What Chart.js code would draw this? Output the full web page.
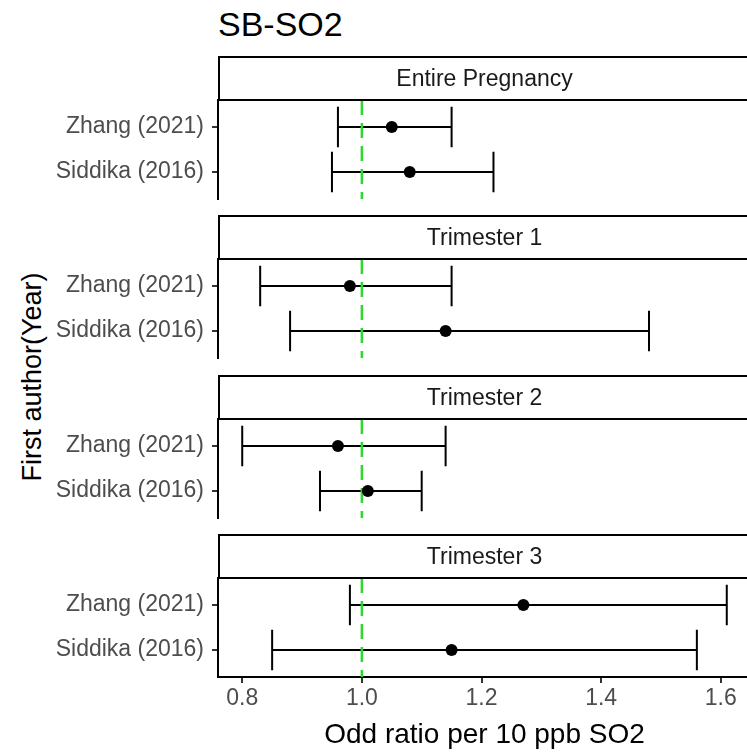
<!DOCTYPE html>
<html>
<head>
<meta charset="utf-8">
<title>SB-SO2</title>
<script src="https://cdn.jsdelivr.net/npm/chart.js@4.4.0/dist/chart.umd.min.js"></script>
<style>
  body { margin: 0; background: #fff; }
  #wrap { position: relative; width: 747px; height: 752px; overflow: hidden; font-family: 'Liberation Sans', Arial, sans-serif; }
  #wrap canvas { position: absolute; left: 0; }
  #title { position: absolute; left: 218px; top: 7px; font-size: 34px; line-height: 34px; color: #000; }
  #ytitle { position: absolute; left: 32px; top: 377px; font-size: 27px; line-height: 27px; color: #000; white-space: nowrap; transform: translate(-50%, -50%) rotate(-90deg); }
</style>
</head>
<body>
<div id="wrap">
  <div id="title">SB-SO2</div>
  <div id="ytitle">First author(Year)</div>
</div>
<script>
document.addEventListener("DOMContentLoaded", function () {
    const periods = ['Entire Pregnancy', 'Trimester 1', 'Trimester 2', 'Trimester 3'];
    const studies = ['Zhang (2021)', 'Siddika (2016)'];

    const zhangOR = [1.05, 0.98, 0.96, 1.27];
    const zhangLow = [0.96, 0.83, 0.80, 0.98];
    const zhangHigh = [1.15, 1.15, 1.14, 1.61];

    const siddikaOR = [1.08, 1.14, 1.01, 1.15];
    const siddikaLow = [0.95, 0.88, 0.93, 0.85];
    const siddikaHigh = [1.22, 1.48, 1.10, 1.56];

    const xTicks = [0.8, 1.0, 1.2, 1.4, 1.6];
    const refValue = 1;

    // facet layout (px)
    const firstPanelTop = 100, panelStep = 159.4, panelHeight = 99, stripHeight = 43;
    const canvasWidth = 757; // the panels run a little past the right edge, like the reference
    const fontFamily = "'Liberation Sans', Arial, sans-serif";
    const wrap = document.getElementById('wrap');

    Chart.defaults.font.family = fontFamily;

    const stripPlugin = {
        id: 'strip',
        afterDraw(chart, args, opts) {
            const ctx = chart.ctx, area = chart.chartArea;
            const top = area.top - stripHeight;
            ctx.save();
            ctx.fillStyle = '#fff';
            ctx.fillRect(area.left + 1, top, chart.width, stripHeight);
            ctx.strokeStyle = '#000';
            ctx.lineWidth = 2;
            ctx.strokeRect(area.left + 1, top, chart.width, stripHeight);
            ctx.fillStyle = '#1a1a1a';
            ctx.font = '23px ' + fontFamily;
            ctx.textAlign = 'center';
            ctx.textBaseline = 'middle';
            ctx.fillText(opts.text, (area.left + area.right) / 2, top + stripHeight / 2 + 1);
            ctx.restore();
        }
    };

    const errorBarPlugin = {
        id: 'errorBars',
        beforeDatasetsDraw(chart, args, opts) {
            const x = chart.scales.x, y = chart.scales.y, ctx = chart.ctx;
            const capHalf = Math.abs(y.getPixelForValue(0.45) - y.getPixelForValue(0));
            ctx.save();
            ctx.strokeStyle = '#000';
            ctx.lineWidth = 2;
            opts.rows.forEach(function (r, k) {
                const py = y.getPixelForValue(k + 1);
                const x0 = x.getPixelForValue(r.low), x1 = x.getPixelForValue(r.high);
                ctx.beginPath();
                ctx.moveTo(x0, py); ctx.lineTo(x1, py);
                ctx.moveTo(x0, py - capHalf); ctx.lineTo(x0, py + capHalf);
                ctx.moveTo(x1, py - capHalf); ctx.lineTo(x1, py + capHalf);
                ctx.stroke();
            });
            ctx.restore();
        }
    };

    periods.forEach(function (period, i) {
        const last = i === periods.length - 1;
        const panelTop = Math.round(firstPanelTop + i * panelStep);
        const canvasTop = panelTop - stripHeight - 3;
        // +4: Chart.js keeps a few px under a y axis that has no x axis below it
        const canvasHeight = last ? 752 - canvasTop : stripHeight + 3 + panelHeight + 6;

        const canvas = document.createElement('canvas');
        canvas.width = canvasWidth;
        canvas.height = canvasHeight;
        canvas.style.top = canvasTop + 'px';
        wrap.appendChild(canvas);

        const rows = [
            { or: zhangOR[i], low: zhangLow[i], high: zhangHigh[i] },
            { or: siddikaOR[i], low: siddikaLow[i], high: siddikaHigh[i] }
        ];

        new Chart(canvas.getContext('2d'), {
            type: 'scatter',
            data: {
                datasets: [{
                    data: rows.map((r, k) => ({ x: r.or, y: k + 1 })),
                    backgroundColor: '#000',
                    pointBackgroundColor: '#000',
                    pointRadius: 6,
                    pointBorderWidth: 0,
                    order: 0
                }, {
                    type: 'line',
                    data: [{ x: refValue, y: 0.4 }, { x: refValue, y: 2.6 }],
                    borderColor: '#2fd82f',
                    borderWidth: 2.5,
                    borderDash: [15, 8],
                    pointRadius: 0,
                    order: 1
                }]
            },
            options: {
                responsive: false,
                animation: false,
                layout: { padding: { top: stripHeight + 3, bottom: last ? 0 : 2, left: 0, right: 0 } },
                plugins: {
                    legend: { display: false },
                    tooltip: { enabled: false },
                    strip: { text: period },
                    errorBars: { rows: rows }
                },
                scales: {
                    x: {
                        type: 'linear',
                        min: 0.7595,
                        max: 1.6505,
                        display: last,
                        afterBuildTicks: s => { s.ticks = xTicks.map(v => ({ value: v })); },
                        afterFit: s => { if (last) s.height = 75; },
                        ticks: {
                            callback: v => v.toFixed(1),
                            color: '#4d4d4d',
                            font: { size: 23 },
                            padding: 2,
                            maxRotation: 0
                        },
                        grid: { drawOnChartArea: false, tickLength: 6, color: '#333', lineWidth: 2 },
                        border: { display: true, color: '#000', width: 2 },
                        title: {
                            display: true,
                            text: 'Odd ratio per 10 ppb SO2',
                            color: '#000',
                            font: { size: 28, lineHeight: 1 },
                            padding: { top: 0, bottom: 3 }
                        }
                    },
                    y: {
                        type: 'linear',
                        min: 0.4,
                        max: 2.6,
                        reverse: true,
                        afterBuildTicks: s => { s.ticks = studies.map((name, k) => ({ value: k + 1 })); },
                        afterFit: s => { s.width = 218; s.paddingTop = 0; s.paddingBottom = 0; },
                        ticks: {
                            callback: v => studies[Math.round(v) - 1],
                            color: '#4d4d4d',
                            font: { size: 23 },
                            padding: 8
                        },
                        grid: { drawOnChartArea: false, tickLength: 6, color: '#333', lineWidth: 2 },
                        border: { display: true, color: '#000', width: 2 }
                    }
                }
            },
            plugins: [stripPlugin, errorBarPlugin]
        });
    });
});
</script>
</body>
</html>
